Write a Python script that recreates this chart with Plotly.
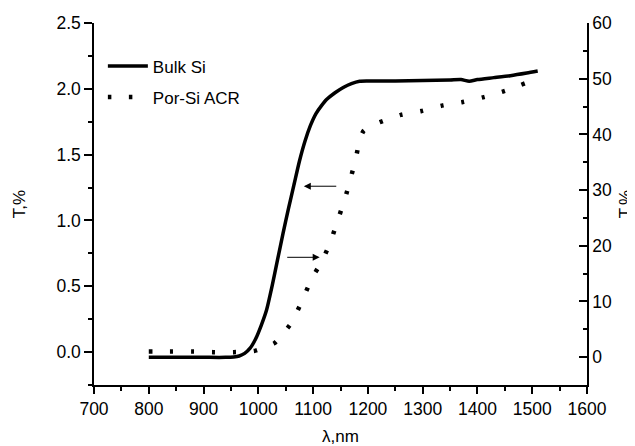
import plotly.graph_objects as go

# Bulk Si (left axis, T,%)
bulk_wl = [800, 850, 900, 940, 955, 965, 975, 985, 995, 1005, 1015, 1025, 1035, 1045,
           1055, 1065, 1075, 1085, 1095, 1105, 1115, 1125, 1140, 1155, 1170, 1185,
           1200, 1250, 1300, 1350, 1370, 1385, 1400, 1430, 1460, 1490, 1510]
bulk_t = [-0.04, -0.04, -0.04, -0.04, -0.037, -0.03, -0.01, 0.03, 0.1, 0.2, 0.32, 0.5,
          0.7, 0.9, 1.09, 1.27, 1.45, 1.6, 1.72, 1.81, 1.87, 1.92, 1.97, 2.01, 2.04, 2.058,
          2.06, 2.06, 2.063, 2.067, 2.07, 2.058, 2.07, 2.085, 2.1, 2.12, 2.135]

# Por-Si ACR (right axis, T,%)
por_wl = [800, 840, 880, 917, 955, 992, 1010, 1029, 1045, 1060, 1078, 1098, 1116, 1132,
          1145, 1158, 1169, 1178, 1185, 1192, 1205, 1222, 1260, 1298, 1337, 1373, 1412,
          1450, 1488, 1505]
por_t = [1.0, 1.0, 1.0, 0.9, 0.9, 1.1, 1.7, 2.5, 4.2, 6.1, 9.7, 14.2, 17.2, 20.8,
         24.6, 28.4, 32.3, 35.7, 39.0, 40.6, 41.5, 42.2, 43.5, 44.2, 45.2, 45.8, 46.7,
         47.8, 49.2, 49.8]

series_names = ["Bulk Si", "Por-Si ACR"]
x_title = "λ,nm"
y_title = "T,%"

FONT = "Arial, Liberation Sans, sans-serif"
INK = "black"
TICK_SIZE = 17.5

fig = go.Figure()
fig.add_trace(go.Scatter(x=bulk_wl, y=bulk_t, name=series_names[0], mode="lines",
                         line=dict(color="black", width=3.5, shape="spline", smoothing=0.6),
                         legendgroup="a"))
fig.add_trace(go.Scatter(x=por_wl, y=por_t, name=series_names[1], mode="lines", yaxis="y2",
                         line=dict(color="black", width=4.5, dash="3.5px,17.5px",
                                   shape="spline", smoothing=0.6),
                         legendgroup="b"))

fig.add_annotation(x=1083, y=1.26, ax=1145, ay=1.26, xref="x", yref="y", axref="x", ayref="y",
                   text="", showarrow=True, arrowhead=2, arrowsize=1.4, arrowwidth=1,
                   arrowcolor="black")
fig.add_annotation(x=1112, y=0.72, ax=1050, ay=0.72, xref="x", yref="y", axref="x", ayref="y",
                   text="", showarrow=True, arrowhead=2, arrowsize=1.4, arrowwidth=1,
                   arrowcolor="black")

axis_common = dict(showline=True, linecolor=INK, linewidth=1.5, showgrid=False, zeroline=False,
                   automargin=False,
                   tickcolor=INK, tickwidth=1.5, tickfont=dict(family=FONT, size=TICK_SIZE, color=INK))

# page body has an 8px default margin; figure is sized to fit the 635x446 window
fig.update_layout(
    width=627, height=438,
    margin=dict(l=86, r=48, t=15, b=61),
    paper_bgcolor="white", plot_bgcolor="white",
    font=dict(family=FONT, size=16, color=INK),
    showlegend=True,
    legend=dict(x=0.018, y=0.93, xanchor="left", yanchor="top", bgcolor="rgba(0,0,0,0)",
                font=dict(family=FONT, size=17, color=INK), traceorder="grouped",
                tracegroupgap=6, itemwidth=40),
    xaxis=dict(range=[700, 1600], dtick=100, tick0=700, ticks="outside", ticklen=7,
               minor=dict(dtick=50, ticks="outside", ticklen=4, tickcolor=INK, tickwidth=1.5),
               title=dict(text=x_title, font=dict(family=FONT, size=17, color=INK), standoff=16),
               **axis_common),
    yaxis=dict(range=[-0.25, 2.5], dtick=0.5, tick0=0, tickformat=".1f", ticks="outside", ticklen=8,
               minor=dict(dtick=0.25, ticks="outside", ticklen=4, tickcolor=INK, tickwidth=1.5),
               title=dict(text=y_title, font=dict(family=FONT, size=17, color=INK), standoff=26),
               **axis_common),
    yaxis2=dict(range=[-5, 60], dtick=10, tick0=0, overlaying="y", side="right", anchor="x",
                ticks="inside", ticklen=8,
                minor=dict(dtick=5, ticks="inside", ticklen=4, tickcolor=INK, tickwidth=1.5),
                title=dict(text=y_title, font=dict(family=FONT, size=17, color=INK), standoff=10),
                **axis_common),
)

fig.write_html("out.html")
